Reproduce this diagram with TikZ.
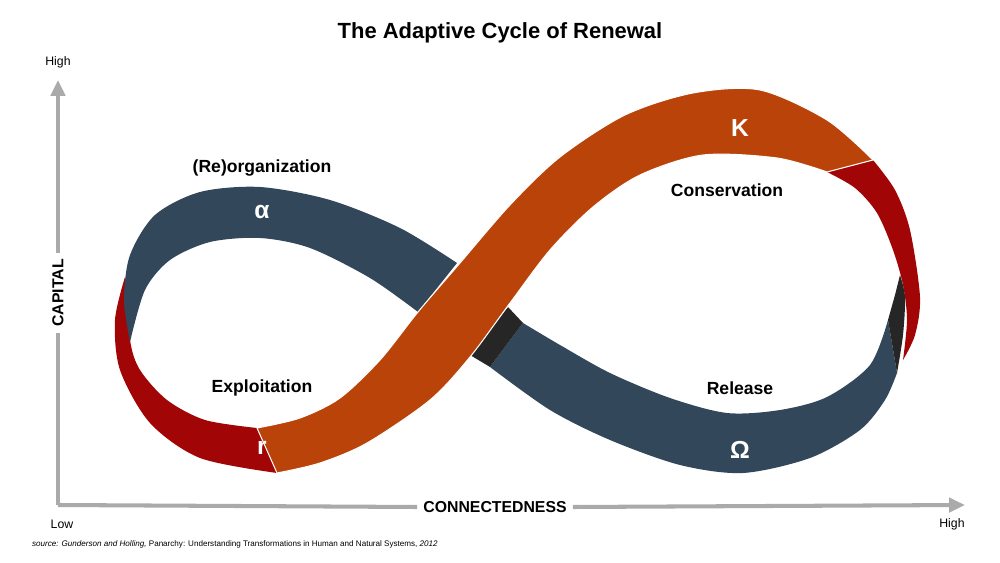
\documentclass[tikz,border=0pt]{standalone}
\usepackage{fontspec}
\setmainfont{Liberation Sans}
\usetikzlibrary{arrows.meta}
\definecolor{slate}{HTML}{33475B}
\definecolor{rust}{HTML}{B94309}
\definecolor{blood}{HTML}{A10506}
\definecolor{coal}{HTML}{262626}
\definecolor{axis}{HTML}{AAAAAA}
\tikzset {
band/.style={draw=white,line width=0.6pt},
phase/.style={font=\bfseries\fontsize{10}{12}\selectfont},
letter/.style={text=white,font=\bfseries\fontsize{14}{16}\selectfont},
achse/.style={draw=axis,line width=2.3pt},
ende/.style={font=\fontsize{7}{8}\selectfont}
}

\begin{document}
\begin{tikzpicture}
[x=0.02cm,y=-0.02cm]
\useasboundingbox (0,0) rectangle (1000,563);
% axes
\coordinate (ursprung) at (58,505);
\coordinate (oben) at (58,80);
\coordinate (rechts) at (965,505);
\node[font=\bfseries\fontsize{9}{10}\selectfont,rotate=90] (capital) at (58,293) {CAPITAL};
\node[font=\bfseries\fontsize{9}{10}\selectfont] (connect) at (495,507) {CONNECTEDNESS};
\draw[achse] (ursprung) -- (capital.west);
\draw[achse,-{Triangle[length=9pt,width=8pt]}] (capital.east) -- (oben);
\draw[achse] (ursprung) -- (connect.west);
\draw[achse,-{Triangle[length=9pt,width=8pt]}] (connect.east) -- (rechts);
\node[ende] (high y) at (58,62) {High};
\node[ende] (low) at (62,524) {Low};
\node[ende] (high x) at (952,524) {High};
\node[font=\bfseries\fontsize{12.5}{14}\selectfont] (titel) at (500,33) {The Adaptive Cycle of Renewal};
\node[anchor=west,font=\fontsize{4.6}{6}\selectfont] (quelle) at (26,544) {\textit{source: Gunderson and Holling,} Panarchy: Understanding Transformations in Human and Natural Systems, \textit{2012}};

% ribbon
\fill[blood] plot[smooth] coordinates {(125,277) (115,320) (120,370) (150,423) (200,458) (277,473)}
  -- plot[smooth] coordinates {(257,428) (205,420) (167,400) (140,370) (130,340) (125,277)} -- cycle;
\fill[slate] plot[smooth] coordinates {(130,342) (124,300) (130,255) (155,215) (200,192) (260,187) (330,200) (400,228) (457,263)}
  -- plot[smooth] coordinates {(418,312) (370,278) (310,248) (260,238) (210,242) (170,260) (145,290) (130,342)} -- cycle;
\fill[slate] plot[smooth] coordinates {(490,367) (550,410) (610,440) (680,465) (743,473) (810,458) (860,430) (885,400) (897,373)}
  -- plot[smooth] coordinates {(888,320) (870,365) (827,397) (780,410) (727,413) (670,398) (610,373) (560,345) (523,323)} -- cycle;
\fill[coal] (470,355) -- (508,307) -- (523,323) -- (490,367) -- cycle;
\fill[blood] plot[smooth] coordinates {(873,160) (895,190) (910,230) (920,297) (915,335) (903,360)}
  -- plot[smooth] coordinates {(903,360) (907,320) (903,285) (893,250) (877,213) (855,188) (827,172)} -- cycle;
\fill[coal] plot[smooth] coordinates {(900,275) (905,297) (903,335) (897,373)} -- (888,320) -- (895,295) -- cycle;
\path[band,fill=rust] plot[smooth] coordinates {(257,428) (300,418) (340,398) (380,360) (418,312) (460,263) (510,205) (560,157) (625,115) (693,93) (760,90) (827,120) (873,160)}
  -- plot[smooth] coordinates {(827,172) (777,158) (703,155) (640,175) (593,207) (550,250) (510,303) (470,357) (430,400) (367,443) (320,463) (277,473)} -- cycle;

% labels
\node[phase] (reorg) at (262,168) {(Re)organization};
\node[phase] (conservation) at (727,190) {Conservation};
\node[phase] (exploitation) at (262,388) {Exploitation};
\node[phase] (release) at (740,388) {Release};
\node[letter] (alpha) at (262,212) {α};
\node[letter] (kappa) at (740,128) {K};
\node[letter] (rho) at (262,448) {r};
\node[letter] (omega) at (740,450) {Ω};
\end{tikzpicture}
\end{document}
